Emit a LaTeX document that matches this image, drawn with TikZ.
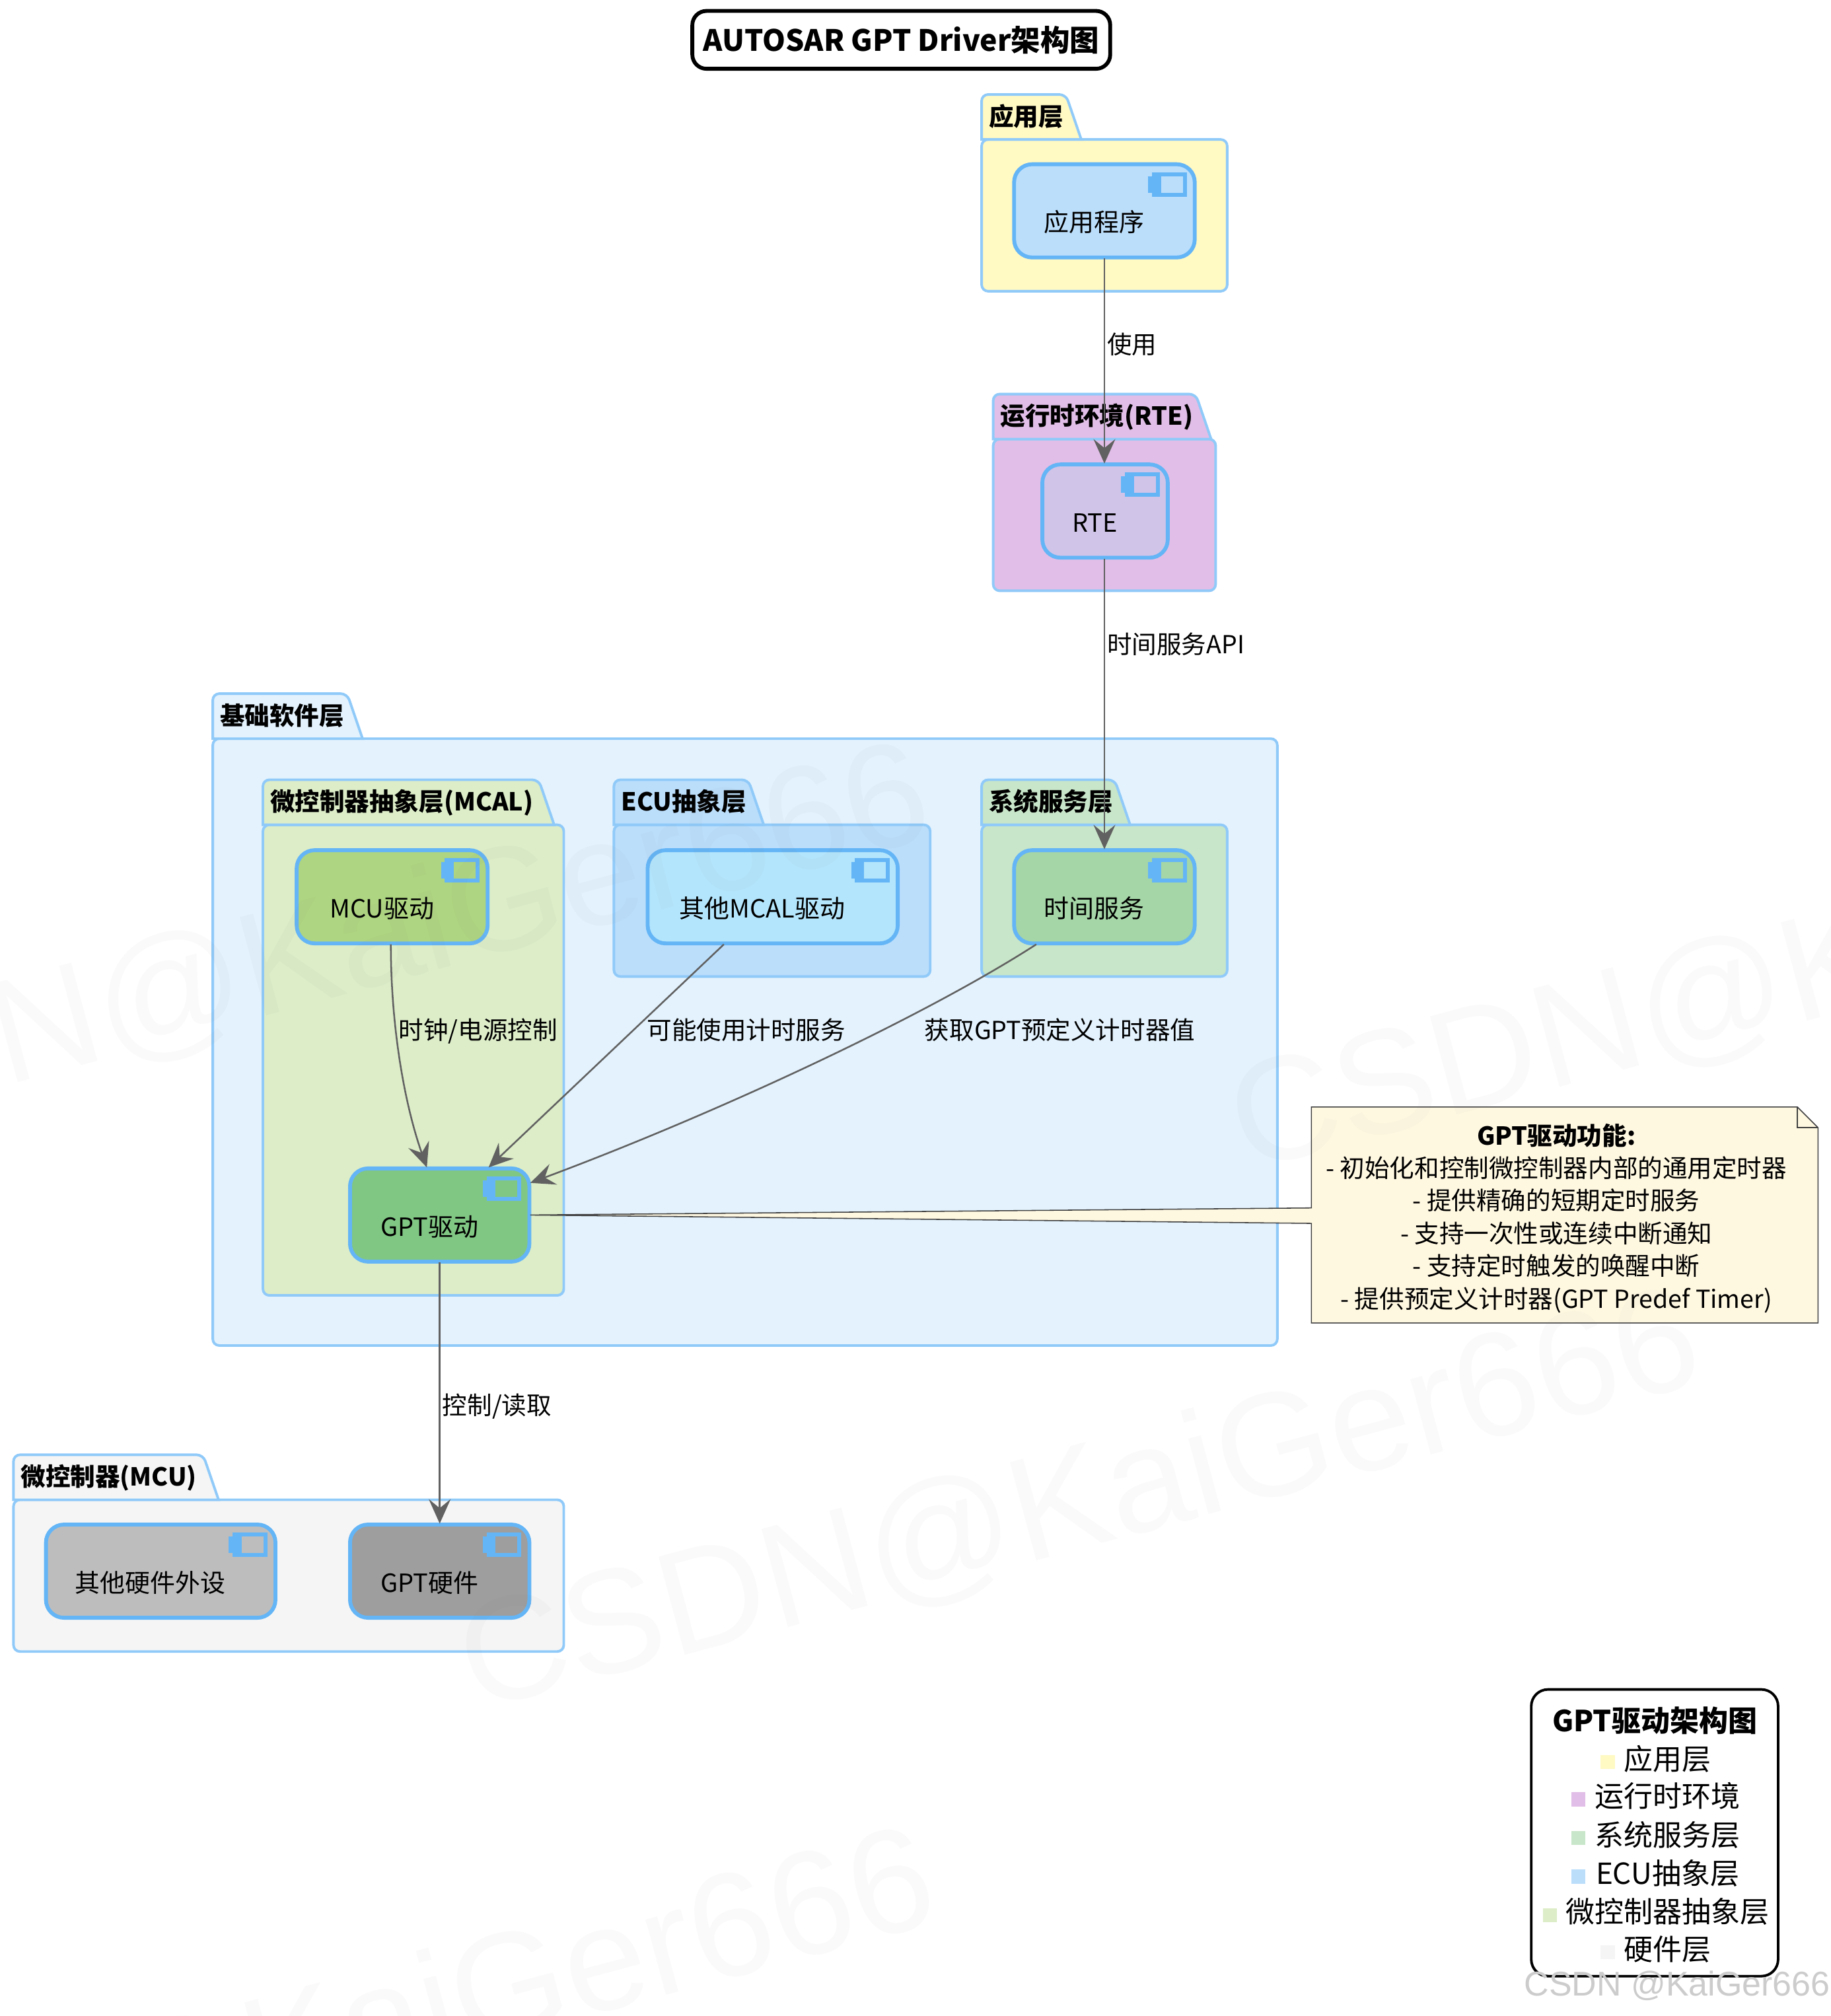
\documentclass[tikz,border=0pt]{standalone}
\usepackage{fontspec}
\setmainfont{Noto Sans CJK SC}
\newfontfamily\markfont{Liberation Sans}
\usepackage{xcolor}
\usepackage{tikz}
\usetikzlibrary{arrows.meta, positioning, calc}
\definecolor{appfill}{HTML}{FFF9C4}
\definecolor{rtefill}{HTML}{E1BEE7}
\definecolor{svcfill}{HTML}{C8E6C9}
\definecolor{ecufill}{HTML}{BBDEFB}
\definecolor{mcalfill}{HTML}{DCEDC8}
\definecolor{hwfill}{HTML}{F5F5F5}
\definecolor{bswfill}{HTML}{E3F2FD}
\definecolor{layerline}{HTML}{90CAF9}
\definecolor{compline}{HTML}{64B5F6}
\definecolor{flowline}{HTML}{616161}
\definecolor{notefill}{HTML}{FFF8E1}
\tikzset{
    layerbody/.style={draw=layerline, line width=2pt},
    layertext/.style={anchor=west, inner sep=0pt, text height=17pt, text depth=2.5pt, font=\fontsize{19.3}{22}\selectfont\bfseries},
    compbox/.style={draw=compline, line width=3pt, rounded corners=14pt, minimum height=72.5pt, inner sep=0pt, outer sep=0.75pt},
    comptext/.style={inner sep=0pt, text height=17pt, text depth=2.5pt, font=\fontsize{19.5}{22}\selectfont},
    flow/.style={draw=flowline, line width=1.3pt, -{Stealth[length=19pt, width=17pt, inset=7pt]}},
    flowtext/.style={anchor=west, inner sep=0pt, text height=17pt, text depth=2.5pt, font=\fontsize{19.3}{22}\selectfont},
    legendrow/.style={inner sep=0pt, font=\fontsize{22.6}{26}\selectfont},
    markline/.style={inner sep=0pt, rotate=15, text=black!50, opacity=0.04, font=\markfont\fontsize{115}{120}\selectfont}
}
\begin{document}
\begin{tikzpicture}[x=1pt, y=-1pt]
    \useasboundingbox (0,0) rectangle (1423.7,1568);
    \foreach \lname/\xa/\ya/\yb/\xb/\yc/\xt/\col/\ltext in {
        applayer/763/73/108/955/227/841/appfill/应用层,
        rtelayer/772/306/341/946/460/942/rtefill/运行时环境(RTE),
        bsw/165/539/574/994/1047/282/bswfill/基础软件层,
        mcal/204/606/641/439/1008/431/mcalfill/微控制器抽象层(MCAL),
        ecuabs/477/606/641/724/760/594/ecufill/ECU抽象层,
        syssvc/763/606/641/955/760/879/svcfill/系统服务层,
        mculayer/10/1131/1166/439/1285/170/hwfill/微控制器(MCU)} {
        \draw[layerbody, rounded corners=5pt, fill=\col] (\xa+0.5,\yb+0.5) rectangle (\xb-0.5,\yc-0.5);
        \draw[layerbody, fill=\col] (\xa+0.5,\yb+0.5) [rounded corners=5pt] -- (\xa+0.5,\ya+0.5) -- (\xt-12,\ya+0.5) [sharp corners] -- (\xt,\yb+0.5) -- cycle;
        \node[layertext] (\lname) at (\xa+6,\ya+17.5) {\ltext};
    }
    \foreach \cname/\cx/\cy/\cw/\col/\ctext in {
        app/859/164/142/BBDEFB/应用程序,
        rte/859.5/397.5/99/D1C4E9/RTE,
        mcu/305/697.5/150/AED581/MCU驱动,
        othermcal/601/697.5/196/B3E5FC/其他MCAL驱动,
        timesvc/859/697.5/142/A5D6A7/时间服务,
        gpt/342/945/141/81C784/GPT驱动,
        otherhw/125/1222/180/BDBDBD/其他硬件外设,
        gpthw/342/1222/141/9E9E9E/GPT硬件} {
        \definecolor{compfill}{HTML}{\col}
        \node[compbox, fill=compfill, minimum width=\cw pt-1.5pt] (\cname) at (\cx,\cy) {};
        \node[comptext] (\cname text) at ($(\cname)+(-8,9)$) {\ctext};
        \begin{scope}[shift={(\cname.north east)}]
            \fill[compline] (-34,7) rectangle (-7,26);
            \fill[compfill] (-27,10) rectangle (-10,23);
            \fill[compline] (-37,10) rectangle (-27,23);
        \end{scope}
    }
    \draw[flow] (app.south) -- (app.south |- rte.north);
    \draw[flow] (rte.south -| app.south) -- (timesvc.north);
    \draw[flow] (gpt.south) -- (gpthw.north);
    \draw[flow] ($(mcu.south)+(-1,0)$) .. controls (304,800) and (315,860) .. ($(gpt.north)+(-10,0)$);
    \draw[flow] ($(othermcal.south)+(-38,0)$) -- ($(gpt.north)+(38,0)$);
    \draw[flow] ($(timesvc.south)+(-53,0)$) .. controls (720,790) and (560,865) .. ($(gpt.east)+(0,-25)$);
    \node[flowtext] (lbluse) at (861,268) {使用};
    \node[flowtext] (lblapi) at (861,501) {时间服务API};
    \node[flowtext] (lblclk) at (310,801) {时钟/电源控制};
    \node[flowtext] (lbltimer) at (503,801) {可能使用计时服务};
    \node[flowtext] (lblpredef) at (719,801) {获取GPT预定义计时器值};
    \node[flowtext] (lblctrl) at (344,1093) {控制/读取};
    \node[minimum width=394pt, minimum height=168pt, inner sep=0pt, outer sep=0pt] (note) at (1217,945) {};
    \draw[fill=notefill, draw=black!75, line width=0.8pt] (gpt.east) -- ($(note.west)+(0,-5.5)$) -- (note.north west) -- ($(note.north east)+(-16,0)$) -- ($(note.north east)+(0,16)$) -- (note.south east) -- (note.south west) -- ($(note.west)+(0,6.5)$) -- cycle;
    \draw[draw=black!75, line width=0.8pt] ($(note.north east)+(-16,0)$) -- ($(note.north east)+(-16,16)$) -- ($(note.north east)+(0,16)$);
    \node[inner sep=0pt, align=center, font=\fontsize{19.3}{25.4}\selectfont] (notetext) at (1210.5,947.5) {{\bfseries GPT驱动功能:}\\- 初始化和控制微控制器内部的通用定时器\\- 提供精确的短期定时服务\\- 支持一次性或连续中断通知\\- 支持定时触发的唤醒中断\\- 提供预定义计时器(GPT Predef Timer)};
    \node[draw=black, line width=3pt, rounded corners=11pt, minimum width=325pt, minimum height=45pt, inner sep=0pt, font=\fontsize{22.85}{26}\selectfont\bfseries] (title) at (701,31) {AUTOSAR GPT Driver架构图};
    \node[draw=black, line width=2pt, rounded corners=13pt, minimum width=192pt, minimum height=223pt, inner sep=0pt, outer sep=0pt] (legend) at (1287,1425.5) {};
    \node[legendrow, font=\fontsize{22.6}{26}\selectfont\bfseries] (legendtitle) at (1287,1338) {GPT驱动架构图};
    \foreach \rname/\sx/\ry/\col/\rtext in {
        rowapp/1245/1368/appfill/应用层,
        rowrte/1222/1397/rtefill/运行时环境,
        rowsvc/1222/1427/svcfill/系统服务层,
        rowecu/1222/1457/ecufill/ECU抽象层,
        rowmcal/1200/1487/mcalfill/微控制器抽象层,
        rowhw/1245/1516/hwfill/硬件层} {
        \fill[\col] (\sx,\ry-3) rectangle (\sx+11,\ry+8);
        \node[legendrow] (\rname) at (1297,\ry) {\rtext};
    }
    \node[markline] (markb) at (840,1170) {CSDN@KaiGer666};
    \node[markline] (markt) at (241,746) {CSDN@KaiGer666};
    \node[markline] (markr) at (1440,750) {CSDN@KaiGer666};
    \node[markline] (markl) at (245,1590) {CSDN@KaiGer666};
    \node[inner sep=0pt, text=black!20, font=\markfont\fontsize{26.7}{30}\selectfont] (csdn) at (1304.5,1544.5) {CSDN @KaiGer666};
\end{tikzpicture}
\end{document}
